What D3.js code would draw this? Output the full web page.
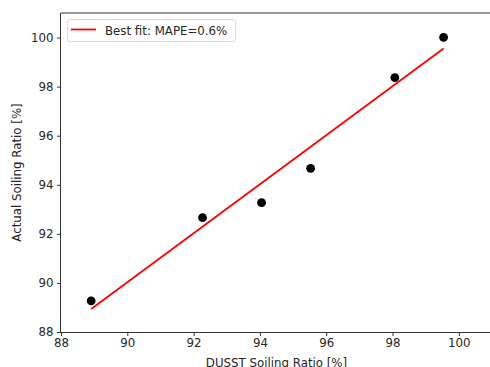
<!DOCTYPE html>
<html><head><meta charset="utf-8">
<script src="https://cdn.jsdelivr.net/npm/d3@7"></script>
<style>body{margin:0;background:#fff}svg{display:block}text{font-family:"DejaVu Sans",sans-serif;fill:#262626}</style>
</head><body>
<script>
const dusst = [88.91, 92.27, 94.05, 95.53, 98.07, 99.54];
const actual = [89.27, 92.66, 93.27, 94.67, 98.37, 100.01];
const fitX = [88.91, 99.54];
const fitY = [88.94, 99.55];
const xTicks = [88, 90, 92, 94, 96, 98, 100];
const yTicks = [88, 90, 92, 94, 96, 98, 100];
const legendLabel = "Best fit: MAPE=0.6%";

const W = 490, H = 367;
const FS = 11.8;
const svg = d3.select("body").append("svg").attr("width", W).attr("height", H);
const x = d3.scaleLinear().domain([88, 101]).range([61, 492]);
const y = d3.scaleLinear().domain([88, 101]).range([332, 13]);

// line
svg.append("path")
  .datum(fitX.map((v, i) => [v, fitY[i]]))
  .attr("d", d3.line().x(d => x(d[0])).y(d => y(d[1])))
  .attr("fill", "none").attr("stroke", "#ff0000").attr("stroke-width", 1.8);

// points
svg.selectAll("circle.pt").data(dusst).join("circle")
  .attr("class", "pt")
  .attr("cx", d => x(d)).attr("cy", (d, i) => y(actual[i]))
  .attr("r", 4.4).attr("fill", "#000");

// axes
const gx = svg.append("g").attr("transform", `translate(0,${y(88)})`)
  .call(d3.axisBottom(x).tickValues(xTicks).tickFormat(d3.format("d")).tickSize(4).tickPadding(3));
const gy = svg.append("g").attr("transform", `translate(${x(88)},0)`)
  .call(d3.axisLeft(y).tickValues(yTicks).tickFormat(d3.format("d")).tickSize(4).tickPadding(3.5));
[gx, gy].forEach(g => {
  g.selectAll("text").attr("font-size", FS).attr("font-family", "DejaVu Sans").attr("fill", "#262626");
  g.selectAll("line").attr("stroke", "#333").attr("stroke-width", 1);
  g.select(".domain").attr("stroke", "#333").attr("stroke-width", 1);
});
gx.select(".domain").attr("d", `M${x(88)},0.5H${x(101)}`);
gy.select(".domain").attr("d", `M-0.5,${y(88)}V${y(101)}`);
// top spine
svg.append("line").attr("x1", x(88)).attr("x2", x(101)).attr("y1", y(101)).attr("y2", y(101))
  .attr("stroke", "#333").attr("stroke-width", 1);

// labels
svg.append("text").attr("x", (x(88) + x(101)) / 2).attr("y", 367)
  .attr("text-anchor", "middle").attr("font-size", FS).text("DUSST Soiling Ratio [%]");
svg.append("text").attr("transform", `translate(21,${(y(88) + y(101)) / 2}) rotate(-90)`)
  .attr("text-anchor", "middle").attr("font-size", FS).text("Actual Soiling Ratio [%]");

// legend
const lg = svg.append("g");
lg.append("rect").attr("x", 67.5).attr("y", 19.5).attr("width", 168).attr("height", 22).attr("rx", 2)
  .attr("fill", "#fff").attr("fill-opacity", 0.8).attr("stroke", "#d9d9d9").attr("stroke-width", 1);
lg.append("line").attr("x1", 71).attr("x2", 96).attr("y1", 29.5).attr("y2", 29.5)
  .attr("stroke", "#ff0000").attr("stroke-width", 1.8);
lg.append("text").attr("x", 105).attr("y", 34.5).attr("font-size", FS).text(legendLabel);
</script>
</body></html>
